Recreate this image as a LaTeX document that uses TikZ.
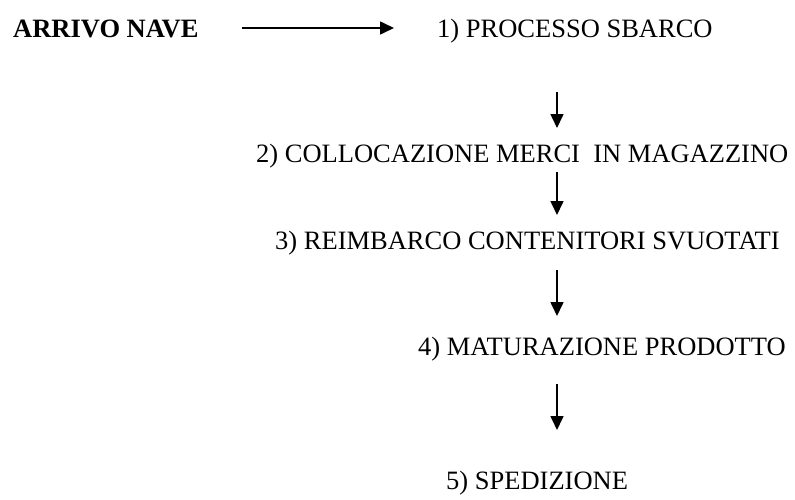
\documentclass[tikz,border=0pt]{standalone}
\usepackage{fontspec}
\setmainfont{Liberation Serif}
\usetikzlibrary{arrows.meta}
\tikzset{
  lbl/.style={anchor=base west, inner sep=0pt, font=\fontsize{26.5}{32}\selectfont},
  flow/.style={line width=1.6pt, -{Triangle[length=14pt,width=13pt]}}
}
\begin{document}
\begin{tikzpicture}[x=1pt,y=-1pt]
\useasboundingbox (0,0) rectangle (795,499);
\node[lbl, font=\fontsize{26.5}{32}\selectfont\bfseries] (arr) at (13,37) {ARRIVO NAVE};
\node[lbl] (s1) at (437,37) {1) PROCESSO SBARCO};
\node[lbl] (s2) at (256,162) {2) COLLOCAZIONE MERCI\ \ IN MAGAZZINO};
\node[lbl] (s3) at (275,249) {3) REIMBARCO CONTENITORI SVUOTATI};
\node[lbl] (s4) at (418,355) {4) MATURAZIONE PRODOTTO};
\node[lbl] (s5) at (446,489) {5) SPEDIZIONE};
\coordinate (h0) at (242,28);
\coordinate (h1) at (394,28);
\coordinate (a1) at (557,92);  \coordinate (b1) at (557,128);
\coordinate (a2) at (557,172); \coordinate (b2) at (557,215);
\coordinate (a3) at (557,270); \coordinate (b3) at (557,316);
\coordinate (a4) at (557,384); \coordinate (b4) at (557,430);
\draw[flow] (h0) -- (h1);
\draw[flow] (a1) -- (b1);
\draw[flow] (a2) -- (b2);
\draw[flow] (a3) -- (b3);
\draw[flow] (a4) -- (b4);
\end{tikzpicture}
\end{document}
